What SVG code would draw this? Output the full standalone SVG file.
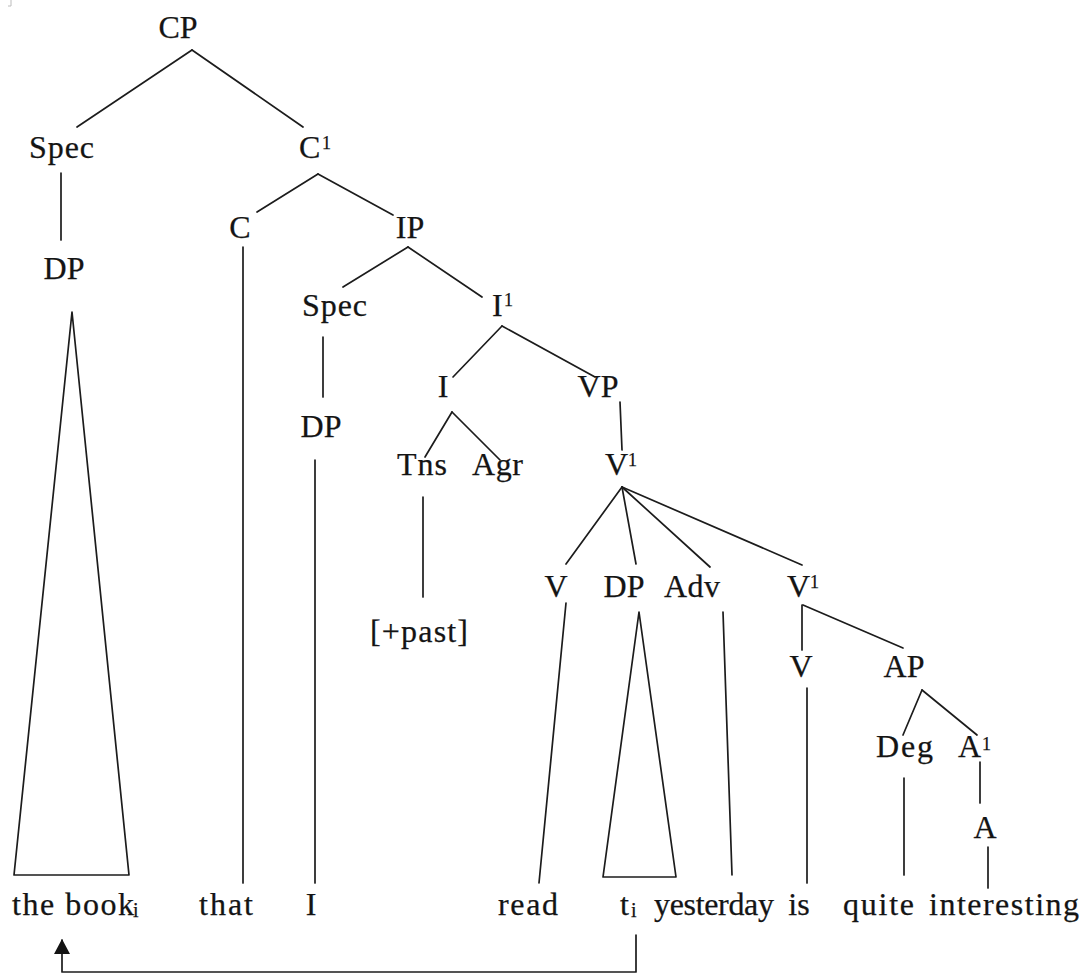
<svg xmlns="http://www.w3.org/2000/svg" width="1085" height="974" viewBox="0 0 1085 974">
  <style>
    text { font-family: "Liberation Serif", "Times New Roman", serif; font-size: 32px; fill: #141414; stroke: #141414; stroke-width: 0.25; }
    text.sup { font-size: 18px; }
    text.sub { font-size: 20px; }
    .edge { stroke: #1c1c1c; stroke-width: 1.7; fill: none; stroke-linecap: round; stroke-linejoin: round; }
    .mark { stroke: #bcbcbc; stroke-width: 1; fill: none; }
  </style>
  <defs>
    <!-- solid triangular head, drawn pointing along +x -->
    <marker id="head" viewBox="0 0 15 16" refX="14" refY="8" markerWidth="15" markerHeight="16" markerUnits="userSpaceOnUse" orient="auto">
      <path d="M15,8 L0,0 L0,16 Z" fill="#141414"/>
    </marker>
  </defs>
  <rect width="1085" height="974" fill="#ffffff"/>
  <path class="mark" d="M11,0 V6 H8"/>

  <!-- tree branches -->
  <g id="connectors">
    <line class="edge" x1="192" y1="50" x2="77" y2="127"/>
    <line class="edge" x1="192" y1="50" x2="303" y2="127"/>
    <line class="edge" x1="61" y1="173" x2="61" y2="240"/>
    <line class="edge" x1="318" y1="174" x2="257" y2="212"/>
    <line class="edge" x1="318" y1="174" x2="393" y2="215"/>
    <line class="edge" x1="243" y1="247" x2="243" y2="883"/>
    <line class="edge" x1="408" y1="247" x2="343" y2="287"/>
    <line class="edge" x1="408" y1="247" x2="482" y2="297"/>
    <line class="edge" x1="323" y1="337" x2="323" y2="397"/>
    <line class="edge" x1="315" y1="460" x2="315" y2="883"/>
    <line class="edge" x1="502" y1="326" x2="453" y2="377"/>
    <line class="edge" x1="502" y1="326" x2="595" y2="377"/>
    <line class="edge" x1="452" y1="412" x2="425" y2="457"/>
    <line class="edge" x1="452" y1="412" x2="500" y2="460"/>
    <line class="edge" x1="620" y1="402" x2="622" y2="450"/>
    <line class="edge" x1="423" y1="497" x2="423" y2="597"/>
    <line class="edge" x1="622" y1="487" x2="566" y2="564"/>
    <line class="edge" x1="622" y1="487" x2="636" y2="564"/>
    <line class="edge" x1="622" y1="487" x2="710" y2="567"/>
    <line class="edge" x1="622" y1="487" x2="802" y2="565"/>
    <line class="edge" x1="566" y1="603" x2="539" y2="883"/>
    <line class="edge" x1="723" y1="612" x2="732" y2="875"/>
    <line class="edge" x1="802" y1="605" x2="802" y2="650"/>
    <line class="edge" x1="803" y1="605" x2="903" y2="648"/>
    <line class="edge" x1="807" y1="688" x2="807" y2="883"/>
    <line class="edge" x1="922" y1="690" x2="903" y2="735"/>
    <line class="edge" x1="922" y1="690" x2="977" y2="735"/>
    <line class="edge" x1="904" y1="778" x2="904" y2="875"/>
    <line class="edge" x1="980" y1="762" x2="980" y2="803"/>
    <line class="edge" x1="988" y1="847" x2="988" y2="888"/>
    <!-- collapsed DP triangles -->
    <polygon class="edge" points="72,312 129,875 14,875"/>
    <polygon class="edge" points="639,612 676,877 603,877"/>
    <!-- movement of the object DP -->
    <polyline class="edge" points="636,935 636,972 62,972 62,940" marker-end="url(#head)"/>
  </g>

  <!-- phrase structure labels -->
  <g id="n-CP"><text x="178" y="38" text-anchor="middle">CP</text></g>
  <g id="n-Spec1"><text x="29" y="158" textLength="65" lengthAdjust="spacing">Spec</text></g>
  <g id="n-C1"><text x="299" y="158">C</text><text class="sup" x="322" y="149">1</text></g>
  <g id="n-DP1"><text x="64" y="279" text-anchor="middle">DP</text></g>
  <g id="n-C"><text x="240" y="238" text-anchor="middle">C</text></g>
  <g id="n-IP"><text x="410" y="238" text-anchor="middle">IP</text></g>
  <g id="n-Spec2"><text x="302" y="316" textLength="65" lengthAdjust="spacing">Spec</text></g>
  <g id="n-I1"><text x="492" y="316">I</text><text class="sup" x="504" y="306">1</text></g>
  <g id="n-DP2"><text x="321" y="437" text-anchor="middle">DP</text></g>
  <g id="n-I"><text x="443" y="397" text-anchor="middle">I</text></g>
  <g id="n-VP"><text x="598" y="397" text-anchor="middle">VP</text></g>
  <g id="n-Tns"><text x="397" y="475" textLength="50" lengthAdjust="spacing">Tns</text></g>
  <g id="n-Agr"><text x="472" y="475" textLength="51" lengthAdjust="spacing">Agr</text></g>
  <g id="n-V1"><text x="605" y="475">V</text><text class="sup" x="628" y="466">1</text></g>
  <g id="n-past"><text x="370" y="642" textLength="98" lengthAdjust="spacing">[+past]</text></g>
  <g id="n-V"><text x="556" y="597" text-anchor="middle">V</text></g>
  <g id="n-DP3"><text x="624" y="597" text-anchor="middle">DP</text></g>
  <g id="n-Adv"><text x="664" y="597" textLength="56" lengthAdjust="spacing">Adv</text></g>
  <g id="n-V1b"><text x="787" y="597">V</text><text class="sup" x="810" y="588">1</text></g>
  <g id="n-V2"><text x="801" y="677" text-anchor="middle">V</text></g>
  <g id="n-AP"><text x="904" y="677" text-anchor="middle">AP</text></g>
  <g id="n-Deg"><text x="876" y="757" textLength="57" lengthAdjust="spacing">Deg</text></g>
  <g id="n-A1"><text x="958" y="757">A</text><text class="sup" x="982" y="750">1</text></g>
  <g id="n-A"><text x="985" y="838" text-anchor="middle">A</text></g>

  <!-- the clause itself -->
  <g id="w-thebook"><text x="12" y="915" textLength="122" lengthAdjust="spacing">the book</text><text class="sub" x="133" y="917">i</text></g>
  <g id="w-that"><text x="199" y="915" textLength="54" lengthAdjust="spacing">that</text></g>
  <g id="w-I"><text x="311" y="915" text-anchor="middle">I</text></g>
  <g id="w-read"><text x="498" y="915" textLength="60" lengthAdjust="spacing">read</text></g>
  <g id="w-t"><text x="620" y="915">t</text><text class="sub" x="631" y="917">i</text></g>
  <g id="w-yesterday"><text x="654" y="915" textLength="120" lengthAdjust="spacing">yesterday</text></g>
  <g id="w-is"><text x="799" y="915" text-anchor="middle">is</text></g>
  <g id="w-quite"><text x="843" y="915" textLength="71" lengthAdjust="spacing">quite</text></g>
  <g id="w-interesting"><text x="929" y="915" textLength="150" lengthAdjust="spacing">interesting</text></g>
</svg>
